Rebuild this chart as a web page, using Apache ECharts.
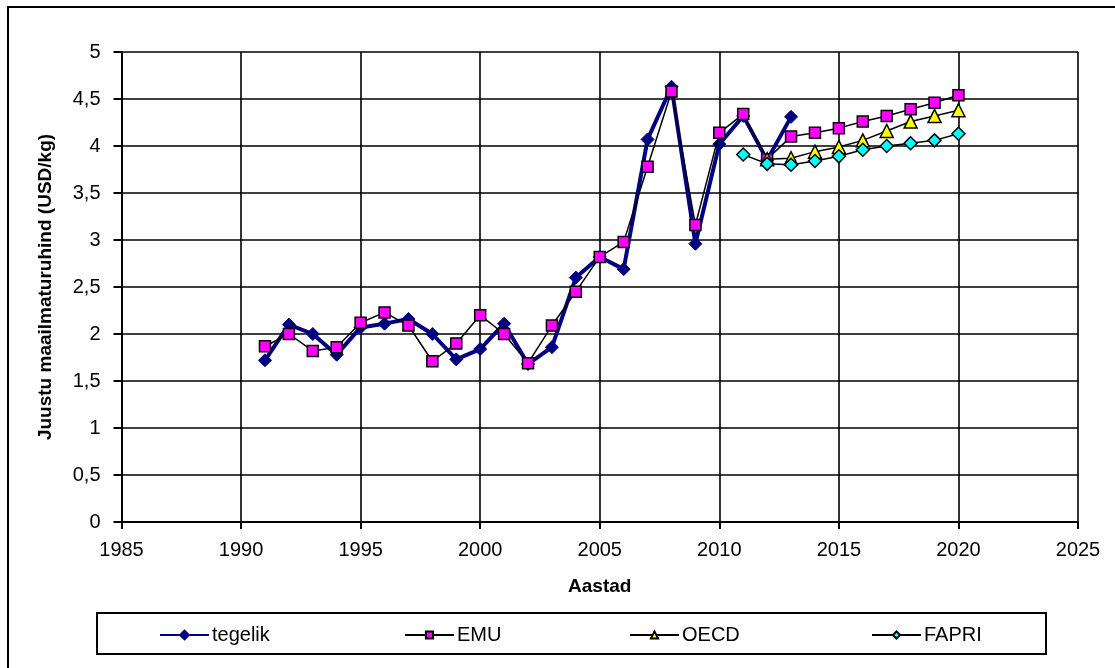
<!DOCTYPE html>
<html>
<head>
<meta charset="utf-8">
<script src="https://cdn.jsdelivr.net/npm/echarts@6/dist/echarts.min.js"></script>
<style>
  html, body { margin: 0; padding: 0; background: #fff; }
  #chart { width: 1115px; height: 668px; }
</style>
</head>
<body>
<div id="chart"></div>
<script>
// Cheese world market price, actual and projections (USD/kg)
const actualYears = [1991, 1992, 1993, 1994, 1995, 1996, 1997, 1998, 1999, 2000, 2001, 2002, 2003,
  2004, 2005, 2006, 2007, 2008, 2009, 2010, 2011, 2012, 2013];
const actualValues = [1.72, 2.10, 2.00, 1.78, 2.07, 2.11, 2.16, 2.00, 1.73, 1.84, 2.11, 1.68, 1.86,
  2.60, 2.82, 2.69, 4.07, 4.63, 2.96, 4.02, 4.32, 3.85, 4.31];

const emuYears = [1991, 1992, 1993, 1994, 1995, 1996, 1997, 1998, 1999, 2000, 2001, 2002, 2003,
  2004, 2005, 2006, 2007, 2008, 2009, 2010, 2011, 2012, 2013, 2014, 2015, 2016, 2017, 2018, 2019, 2020];
const emuValues = [1.87, 2.00, 1.82, 1.86, 2.12, 2.23, 2.09, 1.71, 1.90, 2.20, 2.00, 1.69, 2.09,
  2.45, 2.82, 2.98, 3.78, 4.58, 3.16, 4.14, 4.34, 3.86, 4.10, 4.14, 4.19, 4.26, 4.32, 4.39, 4.46, 4.54];

const oecdYears = [2012, 2013, 2014, 2015, 2016, 2017, 2018, 2019, 2020];
const oecdValues = [3.86, 3.87, 3.94, 3.99, 4.06, 4.16, 4.26, 4.32, 4.38];

const fapriYears = [2011, 2012, 2013, 2014, 2015, 2016, 2017, 2018, 2019, 2020];
const fapriValues = [3.91, 3.81, 3.80, 3.84, 3.89, 3.96, 4.00, 4.03, 4.06, 4.13];

const seriesNames = ['tegelik', 'EMU', 'OECD', 'FAPRI'];
const xAxisTitle = 'Aastad';
const yAxisTitle = 'Juustu maailmaturuhind (USD/kg)';

const pairs = (xs, ys) => xs.map((x, i) => [x, ys[i]]);

const FONT = '"Liberation Sans", Arial, sans-serif';
const chart = echarts.init(document.getElementById('chart'), null, { renderer: 'canvas' });

// one legend block per series so each entry sits at its own spot in the box
const legendLeft = [159, 404, 629, 871];
const legendIconH = [11, 9, 9, 9];
const legends = seriesNames.map((name, i) => ({
  data: [name],
  left: legendLeft[i],
  top: 625,
  padding: 0,
  itemWidth: 49,
  itemHeight: legendIconH[i],
  itemGap: 0,
  textStyle: { fontFamily: FONT, fontSize: 20, color: '#000', padding: [0, 0, 0, -2] },
  selectedMode: false
}));

chart.setOption({
  animation: false,
  backgroundColor: '#fff',
  grid: { left: 121.5, right: 37, top: 52, bottom: 146, containLabel: false },
  legend: legends,
  graphic: [
    { type: 'rect', silent: true, z: 100,
      shape: { x: 8, y: 7, width: 1200, height: 700 },
      style: { fill: 'none', stroke: '#000', lineWidth: 2 } },
    { type: 'rect', silent: true, z: 100,
      shape: { x: 97, y: 613, width: 949, height: 41 },
      style: { fill: 'none', stroke: '#000', lineWidth: 2 } }
  ],
  xAxis: {
    type: 'value', min: 1985, max: 2025, interval: 5,
    name: xAxisTitle, nameLocation: 'middle', nameGap: 55,
    nameTextStyle: { fontFamily: FONT, fontSize: 19, fontWeight: 'bold', color: '#000' },
    axisLine: { show: true, onZero: false, lineStyle: { color: '#000', width: 2 } },
    axisTick: { show: true, length: 7, lineStyle: { color: '#000', width: 2 } },
    axisLabel: { fontFamily: FONT, fontSize: 20, color: '#000', margin: 18, formatter: v => String(v) },
    splitLine: { show: true, lineStyle: { color: '#000', width: 1.6 } }
  },
  yAxis: {
    type: 'value', min: 0, max: 5, interval: 0.5,
    name: yAxisTitle, nameLocation: 'middle', nameGap: 66, nameRotate: 90,
    nameTextStyle: { fontFamily: FONT, fontSize: 19, fontWeight: 'bold', color: '#000' },
    axisLine: { show: true, onZero: false, lineStyle: { color: '#000', width: 2 } },
    axisTick: { show: true, length: 8, lineStyle: { color: '#000', width: 2 } },
    axisLabel: {
      fontFamily: FONT, fontSize: 20, color: '#000', margin: 21,
      formatter: v => String(v).replace('.', ',')
    },
    splitLine: { show: true, lineStyle: { color: '#000', width: 1.6 } }
  },
  series: [
    {
      name: seriesNames[0], type: 'line', data: pairs(actualYears, actualValues),
      symbol: 'diamond', symbolSize: 13,
      lineStyle: { color: '#000080', width: 4 },
      itemStyle: { color: '#000080', borderColor: '#000080', borderWidth: 1 },
      z: 2
    },
    {
      name: seriesNames[1], type: 'line', data: pairs(emuYears, emuValues),
      symbol: 'rect', symbolSize: 11,
      lineStyle: { color: '#000', width: 1.5 },
      itemStyle: { color: '#FF00FF', borderColor: '#000', borderWidth: 1.5 },
      z: 3
    },
    {
      name: seriesNames[2], type: 'line', data: pairs(oecdYears, oecdValues),
      symbol: 'triangle', symbolSize: 13,
      lineStyle: { color: '#000', width: 1.5 },
      itemStyle: { color: '#FFFF00', borderColor: '#000', borderWidth: 1.5 },
      z: 4
    },
    {
      name: seriesNames[3], type: 'line', data: pairs(fapriYears, fapriValues),
      symbol: 'diamond', symbolSize: 13,
      lineStyle: { color: '#000', width: 1.5 },
      itemStyle: { color: '#00FFFF', borderColor: '#000', borderWidth: 1.5 },
      z: 5
    }
  ]
});
</script>
</body>
</html>
